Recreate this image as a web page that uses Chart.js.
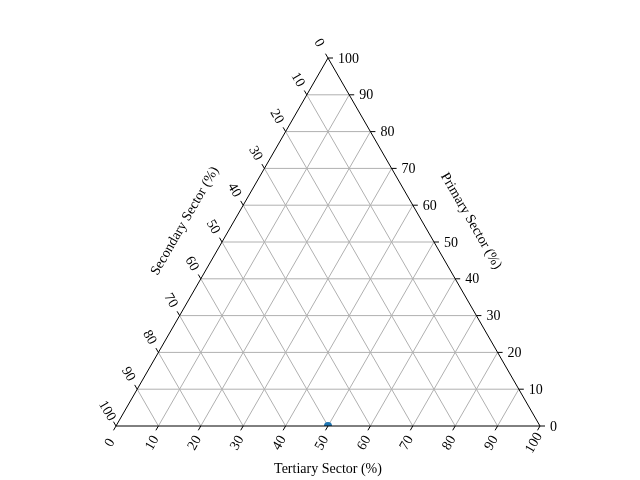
<!DOCTYPE html>
<html><head><meta charset="utf-8">
<script src="https://cdn.jsdelivr.net/npm/chart.js@4.4.1/dist/chart.umd.min.js"></script>
<style>html,body{margin:0;padding:0;background:#fff;} canvas{display:block;}</style>
</head><body>
<canvas id="c" width="640" height="480"></canvas>
<script>
// ---- data ----
const tickValues = [0, 10, 20, 30, 40, 50, 60, 70, 80, 90, 100];
const tickLabels = ['0', '10', '20', '30', '40', '50', '60', '70', '80', '90', '100'];
const gridValues = [10, 20, 30, 40, 50, 60, 70, 80, 90];
const bottomTitle = 'Tertiary Sector (%)';
const rightTitle = 'Primary Sector (%)';
const leftTitle = 'Secondary Sector (%)';
const pointTertiary = [50];
const pointPrimary = [0];
const pointSecondary = [50];

// ternary (tertiary t, primary p) -> cartesian
const H = Math.sqrt(3) / 2;
function toXY(t, p) { return { x: t + p / 2, y: p * H }; }

const datasets = [];
// grid lines
gridValues.forEach(v => {
  datasets.push({ data: [toXY(0, v), toXY(100 - v, v)] });          // constant primary
  datasets.push({ data: [toXY(v, 0), toXY(v, 100 - v)] });          // constant tertiary
  datasets.push({ data: [toXY(100 - v, 0), toXY(0, 100 - v)] });    // constant secondary
});
datasets.forEach(d => Object.assign(d, {
  showLine: true, pointRadius: 0, borderColor: '#b0b0b0', borderWidth: 1, order: 3, clip: false
}));
// data point
datasets.push({
  data: pointTertiary.map((t, i) => toXY(t, pointPrimary[i])),
  pointRadius: 4, backgroundColor: '#1f77b4', borderWidth: 0, order: 2, clip: 0
});
// triangle outline
datasets.push({
  data: [toXY(0, 0), toXY(100, 0), toXY(0, 100), toXY(0, 0)],
  showLine: true, pointRadius: 0, borderColor: '#000', borderWidth: 1, order: 1, clip: false
});

const FONT = '14px "Liberation Serif", "Times New Roman", serif';

const ternaryLabels = {
  id: 'ternaryLabels',
  afterDatasetsDraw(chart) {
    const ctx = chart.ctx, xs = chart.scales.x, ys = chart.scales.y;
    const px = (t, p) => { const c = toXY(t, p); return { x: xs.getPixelForValue(c.x), y: ys.getPixelForValue(c.y) }; };
    ctx.save();
    ctx.strokeStyle = '#000'; ctx.lineWidth = 1; ctx.fillStyle = '#000'; ctx.font = FONT;
    const txt = (s, x, y, rot, align) => {
      ctx.save(); ctx.translate(x, y); ctx.rotate(rot);
      ctx.textAlign = align || 'center'; ctx.textBaseline = 'middle';
      ctx.fillText(s, 0, 0); ctx.restore();
    };
    tickValues.forEach((v, i) => {
      // bottom (tertiary)
      let a = px(v, 0);
      ctx.beginPath(); ctx.moveTo(a.x, a.y); ctx.lineTo(a.x - 2.5, a.y + 4.3); ctx.stroke();
      txt(tickLabels[i], a.x - 6, a.y + 17, -Math.PI / 3);
      // right (primary)
      a = px(100 - v, v);
      ctx.beginPath(); ctx.moveTo(a.x, a.y); ctx.lineTo(a.x + 5, a.y); ctx.stroke();
      txt(tickLabels[i], a.x + 10, a.y + 1, 0, 'left');
      // left (secondary)
      a = px(0, 100 - v);
      ctx.beginPath(); ctx.moveTo(a.x, a.y); ctx.lineTo(a.x - 2.5, a.y - 4.3); ctx.stroke();
      txt(tickLabels[i], a.x - 9, a.y - 15, Math.PI / 3);
    });
    // titles
    let m = px(50, 0);
    txt(bottomTitle, m.x, m.y + 43, 0);
    m = px(50, 50);
    txt(rightTitle, m.x + 37, m.y - 21, Math.PI / 3);
    m = px(0, 50);
    txt(leftTitle, m.x - 37, m.y - 21, -Math.PI / 3);
    ctx.restore();
  }
};

new Chart(document.getElementById('c'), {
  type: 'scatter',
  data: { datasets },
  options: {
    responsive: false, animation: false, events: [],
    layout: { padding: { left: 116, right: 100, top: 58, bottom: 54 } },
    plugins: { legend: { display: false }, tooltip: { enabled: false } },
    scales: {
      x: { type: 'linear', min: 0, max: 100, display: false },
      y: { type: 'linear', min: 0, max: 100 * H, display: false }
    }
  },
  plugins: [ternaryLabels]
});
</script>
</body></html>
